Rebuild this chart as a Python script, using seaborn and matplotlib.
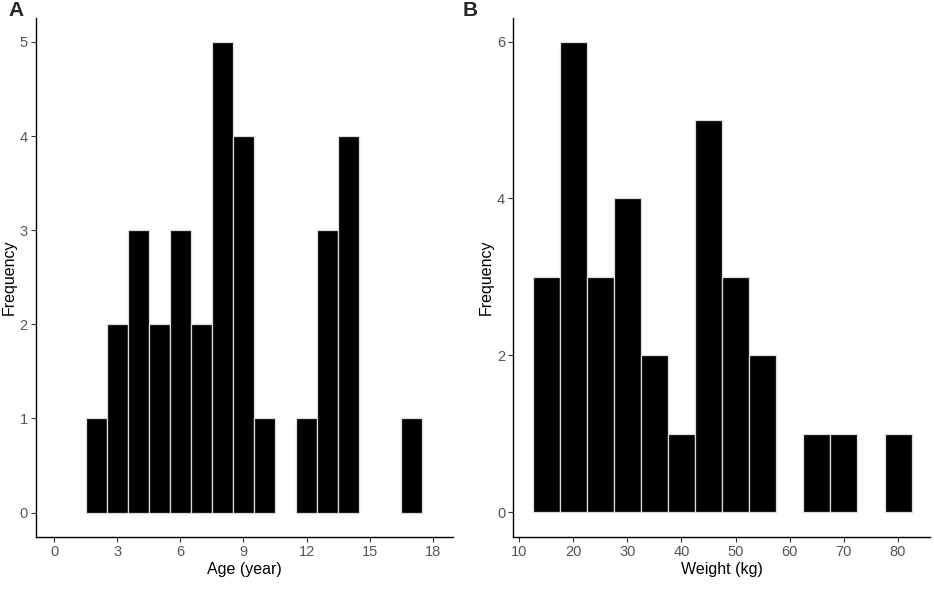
import numpy as np
import matplotlib
matplotlib.use("Agg")
import matplotlib.pyplot as plt
import seaborn as sns

# --- data ---
age_years = [2, 3, 4, 5, 6, 7, 8, 9, 10, 11, 12, 13, 14, 15, 16, 17]
age_counts = [1, 2, 3, 2, 3, 2, 5, 4, 1, 0, 1, 3, 4, 0, 0, 1]

weight_kg = [15, 20, 25, 30, 35, 40, 45, 50, 55, 60, 65, 70, 75, 80]
weight_counts = [3, 6, 3, 4, 2, 1, 5, 3, 2, 0, 1, 1, 0, 1]

age_ticks = [0, 3, 6, 9, 12, 15, 18]
weight_ticks = [10, 20, 30, 40, 50, 60, 70, 80]

sns.set_theme(style="ticks")
plt.rcParams['font.family'] = ['Liberation Sans', 'DejaVu Sans']

fig = plt.figure(figsize=(9.34, 5.9), dpi=100)
W, H = 934, 590
top, bottom = 18.0, 536.7
axA = fig.add_axes([35.7 / W, 1 - bottom / H, (452.7 - 35.7) / W, (bottom - top) / H])
axB = fig.add_axes([513.3 / W, 1 - bottom / H, (930.0 - 513.3) / W, (bottom - top) / H])

hist_kw = dict(stat="count", color="black", edgecolor="#dcdcdc",
               linewidth=0.9, alpha=1)

sns.histplot(x=age_years, weights=age_counts, discrete=True, ax=axA, **hist_kw)
sns.histplot(x=weight_kg, weights=weight_counts, binwidth=5,
             binrange=(12.5, 82.5), ax=axB, **hist_kw)

axA.set_xlim(-0.87, 18.94)
axA.set_ylim(-0.257, 5.255)
axA.set_xticks(age_ticks)
axA.set_yticks(range(0, 6))
axA.set_xlabel("Age (year)", fontsize=11.5, color="black", labelpad=2)

axB.set_xlim(8.95, 85.9)
axB.set_ylim(-0.315, 6.3)
axB.set_xticks(weight_ticks)
axB.set_yticks([0, 2, 4, 6])
axB.set_xlabel("Weight (kg)", fontsize=11.5, color="black", labelpad=2)

for ax in (axA, axB):
    # empty bins: no outline at zero
    for p in ax.patches:
        if p.get_height() == 0:
            p.set_linewidth(0)
    ax.set_ylabel("Frequency", fontsize=11.5, color="black", labelpad=2)
    ax.tick_params(axis="both", labelsize=10.5, labelcolor="#555555",
                   color="#333333", length=3.3, width=0.8, pad=2.5)
    for s in ("left", "bottom"):
        ax.spines[s].set_color("black")
        ax.spines[s].set_linewidth(1.0)
    sns.despine(ax=ax)

fig.text(8 / W, 1 - 0.5 / H, "A", fontsize=15, fontweight="bold", va="top", ha="left")
fig.text(463 / W, 1 - 0.5 / H, "B", fontsize=15, fontweight="bold", va="top", ha="left")

fig.savefig("out.png", dpi=100)
